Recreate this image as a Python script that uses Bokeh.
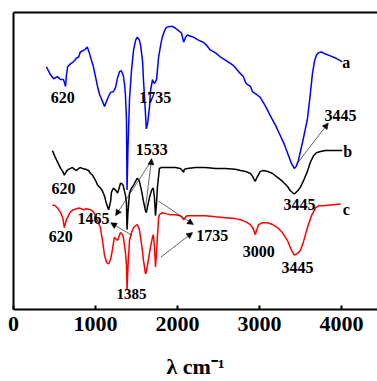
from bokeh.plotting import figure
from bokeh.models import (LinearAxis, FixedTicker, Range1d, Label, Arrow, NormalHead)
from bokeh.embed import file_html
from bokeh.resources import INLINE

# ---- data (wavenumber cm^-1, transmittance a.u.) ----
wn_a = [402, 450, 490, 535, 575, 610, 635, 645, 660, 695, 730, 770, 795, 815, 865, 900, 925, 950, 975,
        1000, 1025, 1050, 1075, 1110, 1135, 1160, 1185, 1220, 1245, 1270, 1295, 1315, 1340, 1355, 1365,
        1378, 1385, 1396, 1415, 1440, 1465, 1490, 1510, 1535, 1550, 1575, 1585, 1600, 1620, 1635, 1660,
        1670, 1695, 1705, 1720, 1745, 1770, 1795, 1815, 1840, 1865, 1900, 1940, 1975, 2010, 2050, 2075,
        2100, 2120, 2160, 2195, 2255, 2315, 2355, 2400, 2465, 2525, 2585, 2685, 2745, 2805, 2830, 2855,
        2890, 2915, 2925, 2965, 3010, 3075, 3135, 3195, 3255, 3305, 3355, 3390, 3425, 3450, 3475, 3500,
        3535, 3585, 3620, 3645, 3670, 3695, 3720, 3755, 3805, 3865, 3925, 3990, 4010]
t_a = [81.7, 79.1, 77.7, 78.4, 77.4, 77.4, 75.1, 78.7, 81.7, 82.7, 83.4, 84.7, 85.0, 86.7, 87.4, 88.4, 86.4,
       84.0, 81.7, 78.4, 75.1, 72.4, 70.8, 68.4, 70.1, 71.8, 73.1, 73.4, 74.8, 78.1, 80.1, 80.4, 78.7, 75.7,
       72.4, 64.1, 40.2, 54.2, 70.8, 80.7, 87.4, 90.7, 91.7, 90.7, 89.0, 83.4, 77.4, 70.8, 60.8, 62.5, 68.4,
       73.4, 77.4, 76.7, 76.1, 77.4, 85.0, 89.0, 91.7, 93.7, 95.0, 95.3, 95.3, 94.7, 94.0, 93.0, 90.0, 91.7,
       92.4, 92.0, 91.7, 90.7, 90.0, 89.0, 87.4, 86.4, 85.0, 84.0, 82.1, 80.1, 78.4, 76.4, 75.7, 75.1, 73.4,
       73.1, 72.4, 71.4, 68.4, 65.1, 62.1, 58.5, 55.5, 51.8, 49.2, 47.5, 48.2, 50.2, 53.2, 57.5, 64.1, 72.4,
       79.1, 83.4, 85.7, 86.4, 86.7, 86.0, 85.4, 84.7, 83.7, 83.4]

wn_b = [475, 500, 535, 575, 600, 620, 645, 670, 695, 720, 745, 770, 795, 815, 840, 880, 915, 940, 965,
        1000, 1025, 1060, 1085, 1110, 1135, 1160, 1185, 1195, 1220, 1245, 1270, 1295, 1305, 1330, 1340,
        1365, 1378, 1385, 1396, 1415, 1440, 1465, 1490, 1510, 1535, 1560, 1585, 1610, 1620, 1645, 1660,
        1685, 1705, 1720, 1732, 1745, 1755, 1770, 1780, 1805, 1855, 1915, 1975, 2035, 2060, 2075, 2085,
        2120, 2220, 2340, 2465, 2585, 2705, 2770, 2830, 2890, 2915, 2940, 2950, 2965, 2990, 3010, 3050,
        3100, 3160, 3220, 3280, 3340, 3380, 3425, 3465, 3500, 3535, 3585, 3620, 3660, 3695, 3745, 3805,
        3865, 3925, 4010]
t_b = [53.5, 51.8, 49.8, 47.5, 46.5, 45.2, 46.5, 47.2, 47.5, 47.8, 47.2, 46.8, 47.5, 47.8, 47.5, 47.2, 46.8,
       45.8, 45.2, 43.5, 41.9, 40.9, 39.9, 38.2, 35.5, 33.6, 36.5, 39.5, 40.9, 40.2, 39.2, 41.5, 42.5, 42.2,
       41.5, 38.5, 35.9, 26.9, 32.6, 39.2, 40.9, 41.9, 43.2, 44.2, 43.2, 40.2, 36.5, 33.2, 32.6, 35.9, 37.9,
       40.2, 40.9, 37.5, 31.6, 35.9, 40.9, 44.9, 47.5, 47.8, 47.8, 47.8, 47.8, 47.5, 46.8, 46.2, 47.2, 47.5,
       47.8, 47.8, 47.5, 47.5, 47.2, 46.8, 46.5, 45.8, 44.9, 43.5, 43.2, 44.2, 45.5, 46.5, 46.8, 46.5, 45.8,
       44.5, 43.2, 41.5, 39.9, 38.9, 39.9, 41.2, 43.2, 46.5, 49.5, 51.8, 52.8, 53.2, 53.5, 53.5, 53.5, 53.5]

wn_c = [475, 510, 535, 575, 600, 620, 645, 670, 695, 730, 770, 795, 830, 855, 890, 940, 975, 1000, 1025,
        1060, 1085, 1110, 1135, 1160, 1185, 1205, 1230, 1255, 1270, 1295, 1305, 1330, 1340, 1365, 1378,
        1385, 1396, 1415, 1440, 1465, 1490, 1510, 1535, 1550, 1575, 1585, 1610, 1620, 1645, 1670, 1695,
        1705, 1720, 1732, 1745, 1755, 1770, 1780, 1815, 1865, 1915, 1975, 2035, 2060, 2075, 2100, 2120,
        2220, 2340, 2465, 2585, 2705, 2770, 2830, 2890, 2925, 2950, 2965, 2990, 3035, 3100, 3160, 3220,
        3280, 3340, 3380, 3425, 3465, 3500, 3535, 3585, 3635, 3685, 3720, 3770, 3865, 3990]
t_c = [35.2, 34.9, 34.2, 32.6, 30.9, 27.6, 30.2, 31.6, 32.9, 33.6, 33.9, 34.2, 33.9, 33.6, 33.9, 33.6, 32.9,
       31.6, 29.9, 27.6, 23.3, 18.3, 15.9, 15.3, 16.9, 19.9, 24.3, 23.6, 23.3, 25.2, 25.9, 25.2, 24.3, 19.3,
       15.0, 6.5, 14.3, 23.3, 25.9, 27.6, 28.2, 28.6, 26.9, 24.3, 19.3, 16.6, 12.0, 12.6, 16.6, 20.9, 24.3,
       25.2, 20.9, 14.3, 19.3, 24.3, 30.9, 31.9, 32.6, 32.2, 31.9, 31.9, 31.6, 30.9, 30.2, 31.2, 31.6, 31.6,
       31.6, 31.2, 30.9, 30.6, 30.2, 29.6, 28.6, 27.2, 25.2, 26.6, 28.6, 29.2, 29.2, 28.6, 27.6, 25.9, 23.3,
       20.6, 18.3, 18.9, 19.9, 22.6, 27.6, 31.6, 34.2, 34.9, 34.9, 35.2, 35.5]

x_ticks = [0, 1000, 2000, 3000, 4000]

# peak annotations: text, x, y
ann_text = ["620", "1735", "3445", "a", "620", "1533", "b", "1465", "3445",
            "620", "1735", "c", "3000", "3445", "1385"]
ann_x = [600, 1730, 3990, 4060, 610, 1685, 4075, 975, 3490, 575, 2425, 4060, 2990, 3465, 1440]
ann_y = [71.4, 71.4, 65.4, 83.1, 40.9, 53.8, 53.2, 30.6, 35.5, 24.6, 24.9, 33.6, 19.6, 14.0, 5.3]
ann_size = ["16px"] * 14 + ["15px"]

# arrows: start -> end (head at end)
arr_x0 = [3450, 1610, 1685, 1450, 1770, 1795]
arr_y0 = [48.8, 34.2, 50.2, 24.9, 36.5, 17.6]
arr_x1 = [3840, 1685, 1245, 1185, 2195, 2185]
arr_y1 = [62.8, 50.8, 31.6, 29.2, 28.6, 25.9]

FONT = "Liberation Serif"

p = figure(width=377, height=381, output_backend="svg", toolbar_location=None,
           x_range=Range1d(0, 4440), y_range=Range1d(0, 100),
           min_border_left=13, min_border_right=0, min_border_top=12, min_border_bottom=68)
p.outline_line_color = None
p.grid.visible = False
p.background_fill_color = "white"

# bottom axis
xa = p.xaxis[0]
xa.ticker = FixedTicker(ticks=x_ticks)
xa.minor_tick_line_color = None
xa.major_tick_in = 4
xa.major_tick_out = 0
xa.major_tick_line_width = 2
xa.axis_line_width = 2
xa.major_label_text_font = FONT
xa.major_label_text_font_style = "bold"
xa.major_label_text_font_size = "22px"
xa.major_label_text_color = "black"
xa.major_label_standoff = 7
xa.axis_label = "λ cm⁻¹"
xa.axis_label_text_font = FONT
xa.axis_label_text_font_style = "bold"
xa.axis_label_text_font_size = "22px"
xa.axis_label_text_color = "black"
xa.axis_label_standoff = 20

# left axis: line only
ya = p.yaxis[0]
ya.ticker = FixedTicker(ticks=[])
ya.minor_tick_line_color = None
ya.major_tick_out = 0
ya.major_tick_in = 0
ya.major_label_standoff = 0
ya.major_label_text_font_size = "0px"
ya.axis_line_width = 2

# top axis: line only
top = LinearAxis(ticker=FixedTicker(ticks=[]), major_tick_out=0, major_tick_in=0,
                 minor_tick_line_color=None, major_label_standoff=0,
                 major_label_text_font_size="0px", axis_line_width=2)
p.add_layout(top, "above")

p.line(wn_a, t_a, line_color="blue", line_width=1.5)
p.line(wn_b, t_b, line_color="black", line_width=1.5)
p.line(wn_c, t_c, line_color="red", line_width=1.5)

for i in range(len(arr_x0)):
    p.add_layout(Arrow(end=NormalHead(size=6, fill_color="black", line_color="black", line_width=0.5),
                       x_start=arr_x0[i], y_start=arr_y0[i], x_end=arr_x1[i], y_end=arr_y1[i],
                       line_color="#222222", line_width=0.7))

for t, x, y, s in zip(ann_text, ann_x, ann_y, ann_size):
    p.add_layout(Label(x=x, y=y, text=t, text_font=FONT, text_font_style="bold",
                       text_font_size=s, text_color="black",
                       text_align="center", text_baseline="middle"))

open("out.html", "w").write(file_html(p, INLINE))
